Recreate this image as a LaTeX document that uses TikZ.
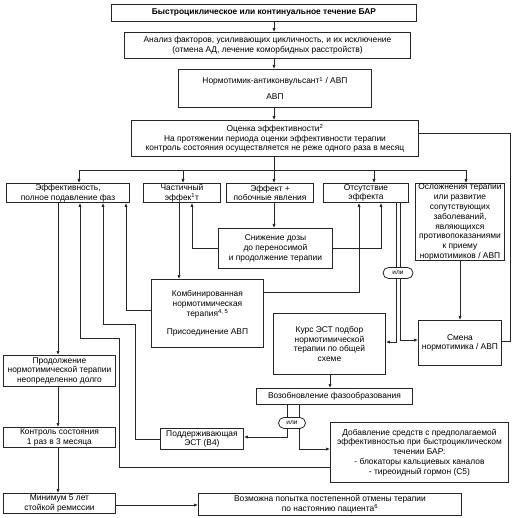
\documentclass[tikz,border=0pt]{standalone}
\usepackage{fontspec}
\setmainfont{Liberation Sans}
\usetikzlibrary{arrows.meta}
\begin{document}
\begin{tikzpicture}[x=1pt,y=-1pt,
  box/.style={draw=black!85, line width=0.9pt, fill=white, align=center, inner sep=0.5pt,
    font=\fontsize{8.4}{9.8}\selectfont, anchor=north west},
  arr/.style={-{Latex[length=4pt,width=3.2pt]}, line width=0.7pt, draw=black!85},
  ln/.style={line width=0.7pt, draw=black!85},
  orbox/.style={draw=black!85, line width=0.8pt, fill=white, rounded corners=5.5pt,
    inner sep=0pt, minimum height=11pt, font=\fontsize{6.5}{7}\selectfont}]
\useasboundingbox[fill=white] (0,0) rectangle (517,518);

% boxes
\node[box, minimum width=305pt, minimum height=17pt] (top) at (111,4)
  {\textbf{Быстроциклическое или континуальное течение БАР}};
\node[box, minimum width=286pt, minimum height=26pt] (anal) at (124,32)
  {Анализ факторов, усиливающих цикличность, и их исключение\\(отмена АД, лечение коморбидных расстройств)};
\node[box, minimum width=193pt, minimum height=38pt] (norm) at (178,69)
  {Нормотимик-антиконвульсант\textsuperscript{1} / АВП\\[6pt]АВП};
\node[box, minimum width=287pt, minimum height=36pt] (ocen) at (131,120)
  {Оценка эффективности\textsuperscript{2}\\На протяжении периода оценки эффективности терапии\\контроль состояния осуществляется не реже одного раза в месяц};
\node[box, minimum width=123pt, minimum height=19pt] (eff) at (6,183)
  {Эффективность,\\полное подавление фаз};
\node[box, minimum width=77pt, minimum height=19pt] (chast) at (143,183)
  {Частичный\\эффек\textsuperscript{1}т};
\node[box, minimum width=87pt, minimum height=19pt] (eplus) at (226,183)
  {Эффект +\\побочные явления};
\node[box, minimum width=85pt, minimum height=19pt] (otsut) at (323,183)
  {Отсутствие\\эффекта};
\node[box, minimum width=89pt, minimum height=74pt] (osl) at (415,183)
  {Осложнения терапии\\или развитие\\сопутствующих\\заболеваний,\\являющихся\\противопоказаниями\\к приему\\нормотимиков / АВП};
\node[box, minimum width=114pt, minimum height=40pt] (snizh) at (218,228)
  {Снижение дозы\\до переносимой\\и продолжение терапии};
\node[box, minimum width=112pt, minimum height=68pt] (komb) at (151,279)
  {Комбинированная\\нормотимическая\\терапия\textsuperscript{4, 5}\\[8pt]Присоединение АВП};
\node[box, minimum width=112pt, minimum height=61pt] (kurs) at (273,313)
  {Курс ЭСТ подбор\\нормотимической\\терапии по общей\\схеме};
\node[box, minimum width=83pt, minimum height=45pt] (smena) at (418,320)
  {Смена\\нормотимика / АВП};
\node[box, minimum width=112pt, minimum height=31pt] (prod) at (3,355)
  {Продолжение\\нормотимической терапии\\неопределенно долго};
\node[box, minimum width=156pt, minimum height=16pt] (vozob) at (256,388)
  {Возобновление фазообразования};
\node[box, minimum width=83pt, minimum height=21pt] (podd) at (160,428)
  {Поддерживающая\\ЭСТ (В4)};
\node[box, minimum width=112pt, minimum height=20pt] (kontr) at (3,427)
  {Контроль состояния\\1 раз в 3 месяца};
\node[box, minimum width=178pt, minimum height=60pt] (dob) at (330,422)
  {Добавление средств с предполагаемой\\эффективностью при быстроциклическом\\течении БАР:\\- блокаторы кальциевых каналов\\- тиреоидный гормон (С5)};
\node[box, minimum width=112pt, minimum height=20pt] (minr) at (3,493)
  {Минимум 5 лет\\стойкой ремиссии};
\node[box, minimum width=263pt, minimum height=22pt] (vozm) at (198,493)
  {Возможна попытка постепенной отмены терапии\\по настоянию пациента\textsuperscript{6}};

% main vertical chain
\draw[arr] (top.south -| 274,0) -- (anal.north -| 274,0);
\draw[arr] (anal.south -| 274,0) -- (norm.north -| 274,0);
\draw[arr] (norm.south -| 274,0) -- (ocen.north -| 274,0);
\draw[arr] (ocen.south -| 274,0) -- (eplus.north -| 274,0);

% bus
\coordinate (busL) at (79,170);
\coordinate (busR) at (466,170);
\draw[ln] (busL) -- (busR);
\draw[arr] (busL) -- (eff.north -| busL);
\draw[arr] (183,170) -- (chast.north -| 183,0);
\draw[arr] (374,170) -- (otsut.north -| 374,0);
\draw[arr] (busR) -- (osl.north -| busR);

% right loop
\draw[ln] (ocen.east |- 0,133) -- (510,133) -- (510,341) -- (smena.east |- 0,341);

% returns to Эффективность
\draw[arr] (eff.south -| 58,0) -- (prod.north -| 58,0);
\draw[arr] (komb.west |- 0,310) -- (126,310) -- (eff.south -| 126,0);
\draw[arr] (podd.west |- 0,439) -- (135,439) -- (135,324) -- (103,324) -- (eff.south -| 103,0);
\draw[arr] (dob.west |- 0,467) -- (119,467) -- (119,338) -- (80,338) -- (eff.south -| 80,0);

% middle
\draw[arr] (chast.south -| 179,0) -- (komb.north -| 179,0);
\draw[arr] (snizh.west |- 0,248) -- (192,248) -- (chast.south -| 192,0);
\draw[arr] (eplus.south -| 274,0) -- (snizh.north -| 274,0);
\draw[arr] (komb.east |- 0,292) -- (359,292) -- (otsut.south -| 359,0);
\draw[arr] (snizh.east |- 0,248) -- (381,248) -- (otsut.south -| 381,0);
\draw[arr] (otsut.south -| 396,0) -- (396,342) -- (kurs.east |- 0,342);
\draw[arr] (otsut.south -| 400,0) -- (400,340) -- (smena.west |- 0,340);
\draw[arr] (osl.south -| 460,0) -- (smena.north -| 460,0);
\draw[arr] (kurs.south -| 330,0) -- (vozob.north -| 330,0);
\draw[arr] (vozob.south -| 287,0) -- (287,437) -- (podd.east |- 0,437);
\draw[arr] (vozob.south -| 299,0) -- (299,449) -- (dob.west |- 0,449);

% left column
\draw[arr] (prod.south -| 58,0) -- (kontr.north -| 58,0);
\draw[arr] (kontr.south -| 58,0) -- (minr.north -| 58,0);
\draw[arr] (minr.east |- 0,505) -- (vozm.west |- 0,505);

% "или" ovals
\node[orbox, minimum width=30pt] (or1) at (398,273) {или};
\node[orbox, minimum width=27pt] (or2) at (292,423) {или};
\end{tikzpicture}
\end{document}
